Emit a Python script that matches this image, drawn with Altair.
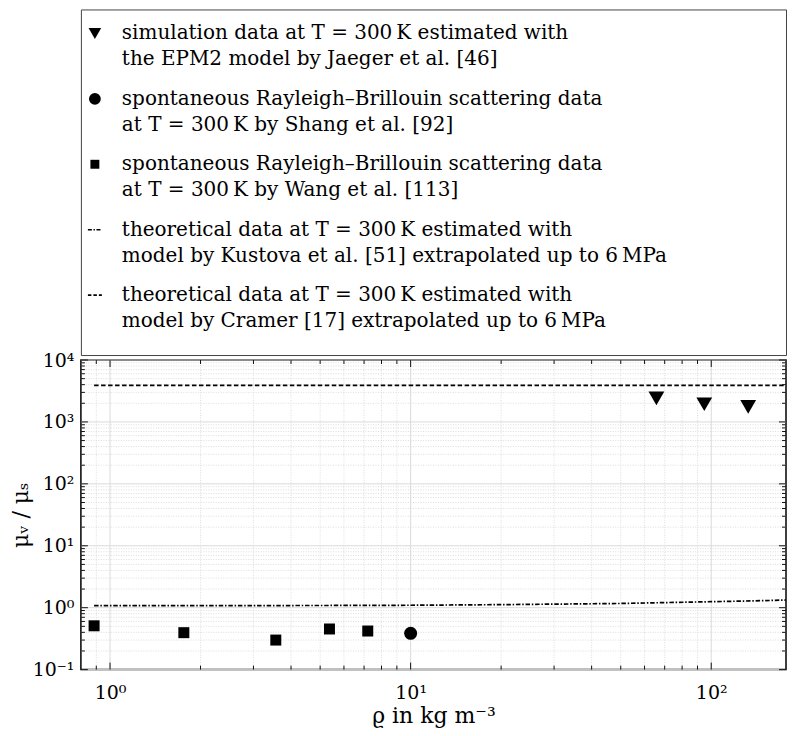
import altair as alt
import pandas as pd

# ---------------- data ----------------
sim_rho = [65.7, 94.8, 132.7]            # Jaeger et al. (EPM2 simulation)
sim_ratio = [2400, 1930, 1750]

shang_rho = [10.0]                        # Shang et al.
shang_ratio = [0.386]

wang_rho = [0.885, 1.76, 3.56, 5.37, 7.2]  # Wang et al.
wang_ratio = [0.51, 0.395, 0.30, 0.453, 0.42]

kustova_rho = [0.885, 2, 5, 10, 20, 50, 100, 150, 177]
kustova_ratio = [1.077, 1.08, 1.085, 1.095, 1.12, 1.17, 1.25, 1.30, 1.33]

cramer_rho = [0.885, 177]
cramer_ratio = [3900, 3900]

legend_line1 = [
    "simulation data at  T = 300\u2009K estimated with",
    "spontaneous Rayleigh–Brillouin scattering data",
    "spontaneous Rayleigh–Brillouin scattering data",
    "theoretical data at  T = 300\u2009K estimated with",
    "theoretical data at  T = 300\u2009K estimated with",
]
legend_line2 = [
    "the EPM2 model by Jaeger et al. [46]",
    "at  T = 300\u2009K by Shang et al. [92]",
    "at  T = 300\u2009K by Wang et al. [113]",
    "model by Kustova et al. [51] extrapolated up to 6\u2009MPa",
    "model by Cramer [17] extrapolated up to 6\u2009MPa",
]
legend_kind = ["tri", "circ", "sq", "dashdot", "dashed"]

x_major = [1, 10, 100]
x_minor = [0.9, 2, 3, 4, 5, 6, 7, 8, 9, 20, 30, 40, 50, 60, 70, 80, 90]
y_major = [0.1, 1, 10, 100, 1000, 10000]
y_minor = [0.2, 0.3, 0.4, 0.5, 0.6, 0.7, 0.8, 0.9,
           2, 3, 4, 5, 6, 7, 8, 9,
           20, 30, 40, 50, 60, 70, 80, 90,
           200, 300, 400, 500, 600, 700, 800, 900,
           2000, 3000, 4000, 5000, 6000, 7000, 8000, 9000]

# ---------------- layout / style ----------------
W, H = 706, 310
LW, LH = 706, 346
FONT = "DejaVu Serif"

xscale = alt.Scale(type="log", domain=[0.8, 177.3], nice=False)
yscale = alt.Scale(type="log", domain=[0.1, 10000], nice=False)
xaxis = alt.Axis(values=x_major, ticks=False, domain=False, grid=False,
                 labelExpr="'10' + ['⁰','¹','²'][round(log(datum.value)/LN10)]",
                 labelFontSize=19, labelPadding=14, labelFont=FONT, labelColor="black",
                 titleFontSize=22, titleFont=FONT, titleFontWeight="normal",
                 titlePadding=3, titleColor="black")
yaxis = alt.Axis(values=y_major, ticks=False, domain=False, grid=False,
                 labelExpr="'10' + ['⁻¹','⁰','¹','²','³','⁴'][round(log(datum.value)/LN10)+1]",
                 labelFontSize=19, labelPadding=7, labelFont=FONT, labelColor="black",
                 titleFontSize=22, titleFont=FONT, titleFontWeight="normal",
                 titlePadding=0, titleColor="black")
XT = "ϱ  in  kg m⁻³"
YT = "μᵥ / μₛ"


def X(f):
    return alt.X(f, type="quantitative", scale=xscale, axis=xaxis, title=XT)


def Y(f):
    return alt.Y(f, type="quantitative", scale=yscale, axis=yaxis, title=YT)


df_xmaj = pd.DataFrame({"v": x_major})
df_xmin = pd.DataFrame({"v": x_minor})
df_ymaj = pd.DataFrame({"v": y_major})
df_ymin = pd.DataFrame({"v": y_minor})

grid_minor_x = alt.Chart(df_xmin).mark_rule(color="#d4d4d4", strokeWidth=0.8, strokeDash=[1, 1.5]).encode(x=X("v"))
grid_minor_y = alt.Chart(df_ymin).mark_rule(color="#d4d4d4", strokeWidth=0.8, strokeDash=[1, 1.5]).encode(y=Y("v"))
grid_major_x = alt.Chart(df_xmaj).mark_rule(color="#dadada", strokeWidth=1).encode(x=X("v"))
grid_major_y = alt.Chart(df_ymaj).mark_rule(color="#dadada", strokeWidth=1).encode(y=Y("v"))

df_k = pd.DataFrame({"rho": kustova_rho, "r": kustova_ratio})
df_c = pd.DataFrame({"rho": cramer_rho, "r": cramer_ratio})
line_k = alt.Chart(df_k).mark_line(color="black", strokeWidth=1.7, strokeDash=[4.5, 1.8, 1.5, 1.8]).encode(x=X("rho"), y=Y("r"))
line_c = alt.Chart(df_c).mark_line(color="black", strokeWidth=1.7, strokeDash=[4.5, 2.5]).encode(x=X("rho"), y=Y("r"))

df_sim = pd.DataFrame({"rho": sim_rho, "r": sim_ratio})
df_shang = pd.DataFrame({"rho": shang_rho, "r": shang_ratio})
df_wang = pd.DataFrame({"rho": wang_rho, "r": wang_ratio})
pts_sim = alt.Chart(df_sim).mark_point(shape="triangle-down", filled=True, color="black", opacity=1, size=250).encode(x=X("rho"), y=Y("r"))
pts_shang = alt.Chart(df_shang).mark_point(shape="circle", filled=True, color="black", opacity=1, size=169).encode(x=X("rho"), y=Y("r"))
pts_wang = alt.Chart(df_wang).mark_point(shape="square", filled=True, color="black", opacity=1, size=121).encode(x=X("rho"), y=Y("r"))

TC = "#111111"
tick_b_maj = alt.Chart(df_xmaj).mark_rule(color=TC, strokeWidth=1).encode(x=X("v"), y=alt.value(H), y2=alt.value(H - 7))
tick_b_min = alt.Chart(df_xmin).mark_rule(color=TC, strokeWidth=1).encode(x=X("v"), y=alt.value(H), y2=alt.value(H - 4))
tick_t_maj = alt.Chart(df_xmaj).mark_rule(color=TC, strokeWidth=1).encode(x=X("v"), y=alt.value(0), y2=alt.value(7))
tick_t_min = alt.Chart(df_xmin).mark_rule(color=TC, strokeWidth=1).encode(x=X("v"), y=alt.value(0), y2=alt.value(4))
tick_l_maj = alt.Chart(df_ymaj).mark_rule(color=TC, strokeWidth=1).encode(y=Y("v"), x=alt.value(0), x2=alt.value(7))
tick_l_min = alt.Chart(df_ymin).mark_rule(color=TC, strokeWidth=1).encode(y=Y("v"), x=alt.value(0), x2=alt.value(4))
tick_r_maj = alt.Chart(df_ymaj).mark_rule(color=TC, strokeWidth=1).encode(y=Y("v"), x=alt.value(W - 7), x2=alt.value(W))
tick_r_min = alt.Chart(df_ymin).mark_rule(color=TC, strokeWidth=1).encode(y=Y("v"), x=alt.value(W - 4), x2=alt.value(W))

main = alt.layer(
    grid_minor_x, grid_minor_y, grid_major_x, grid_major_y,
    line_k, line_c, pts_sim, pts_shang, pts_wang,
    tick_b_maj, tick_b_min, tick_t_maj, tick_t_min,
    tick_l_maj, tick_l_min, tick_r_maj, tick_r_min,
).properties(width=W, height=H,
             view=alt.ViewBackground(stroke="#000000", strokeWidth=1.5))

# ---------------- legend panel ----------------
df_leg = pd.DataFrame({"idx": list(range(len(legend_line1))), "l1": legend_line1,
                       "l2": legend_line2, "kind": legend_kind})
lyscale = alt.Scale(domain=[-0.3664, 4.916], reverse=True, nice=False, zero=False)
LY = alt.Y("idx:Q", scale=lyscale, axis=None)
LSIZE = 20

leg_text1 = alt.Chart(df_leg).mark_text(align="left", baseline="middle", font=FONT, fontSize=LSIZE,
                                        color="black").encode(x=alt.value(41), y=LY, text="l1:N")
leg_text2 = alt.Chart(df_leg).mark_text(align="left", baseline="middle", font=FONT, fontSize=LSIZE,
                                        color="black", dy=26).encode(x=alt.value(41), y=LY, text="l2:N")
leg_tri = alt.Chart(df_leg).transform_filter("datum.kind == 'tri'").mark_point(
    shape="triangle-down", filled=True, color="black", opacity=1, size=160).encode(x=alt.value(14), y=LY)
leg_circ = alt.Chart(df_leg).transform_filter("datum.kind == 'circ'").mark_point(
    shape="circle", filled=True, color="black", opacity=1, size=140).encode(x=alt.value(14), y=LY)
leg_sq = alt.Chart(df_leg).transform_filter("datum.kind == 'sq'").mark_point(
    shape="square", filled=True, color="black", opacity=1, size=80).encode(x=alt.value(14), y=LY)
leg_dd = alt.Chart(df_leg).transform_filter("datum.kind == 'dashdot'").mark_rule(
    color="black", strokeWidth=1.6, strokeDash=[4, 1.6, 1.4, 1.6]).encode(x=alt.value(7), x2=alt.value(21), y=LY)
leg_da = alt.Chart(df_leg).transform_filter("datum.kind == 'dashed'").mark_rule(
    color="black", strokeWidth=1.6, strokeDash=[3.5, 2]).encode(x=alt.value(7), x2=alt.value(21), y=LY)

legend_panel = alt.layer(leg_text1, leg_text2, leg_tri, leg_circ, leg_sq, leg_dd, leg_da).properties(
    width=LW, height=LH, view=alt.ViewBackground(stroke="#444444", strokeWidth=1))

chart = alt.vconcat(legend_panel, main, spacing=5, bounds="flush").properties(
    padding={"left": 0, "top": 0, "right": 0, "bottom": 0}
).configure(font=FONT, background="white")

chart.save("out.html", embed_options={"renderer": "svg", "actions": False})
